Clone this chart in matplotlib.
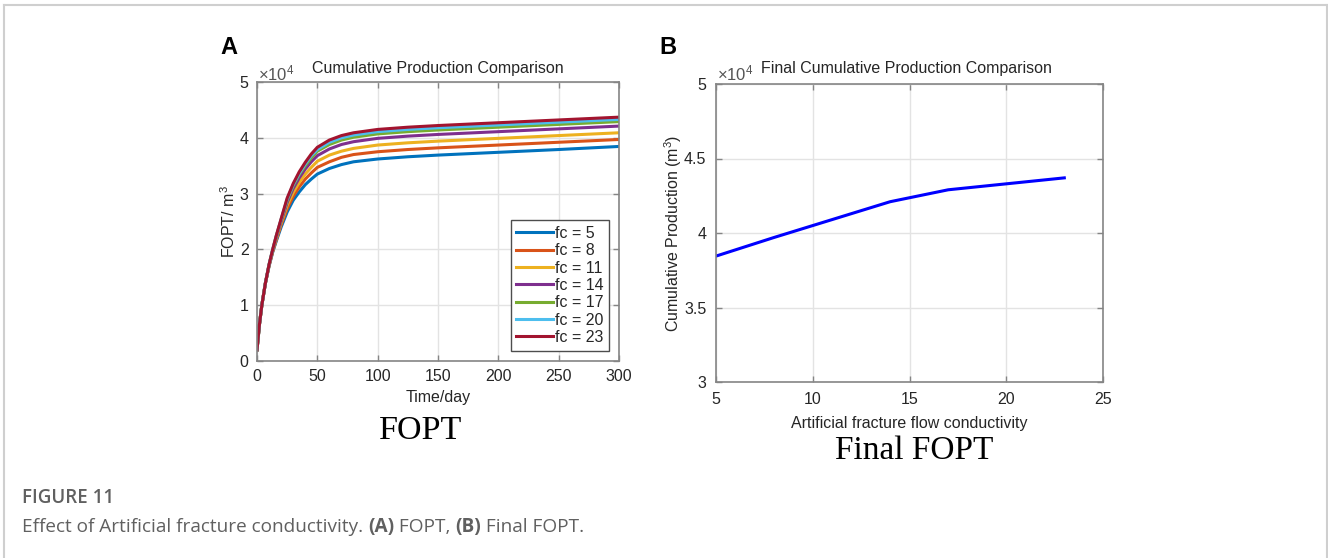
import matplotlib
matplotlib.use("Agg")
import matplotlib.pyplot as plt
from matplotlib.lines import Line2D
from matplotlib.ticker import FuncFormatter

plt.rcParams['font.family'] = ['Liberation Sans', 'DejaVu Sans']
plt.rcParams['mathtext.fontset'] = 'custom'
plt.rcParams['mathtext.rm'] = 'Liberation Sans'
plt.rcParams['mathtext.it'] = 'Liberation Sans:italic'

# ---------------- data ----------------
time_days = [0, 2, 4, 7, 10, 13, 16, 20, 25, 30, 35, 40, 45, 50, 60, 70, 80,
             100, 125, 150, 200, 250, 300]
fc_labels = ['fc = 5', 'fc = 8', 'fc = 11', 'fc = 14', 'fc = 17', 'fc = 20', 'fc = 23']
# FOPT in units of 1e4 m^3
fopt_fc5 = [0.20, 0.65, 1.00, 1.40, 1.70, 1.95, 2.15, 2.40, 2.67, 2.88, 3.03, 3.16, 3.26,
            3.35, 3.45, 3.52, 3.57, 3.62, 3.66, 3.69, 3.74, 3.79, 3.845]
fopt_fc8 = [0.20, 0.65, 1.00, 1.40, 1.71, 1.96, 2.17, 2.44, 2.73, 2.95, 3.12, 3.26, 3.37,
            3.47, 3.57, 3.65, 3.70, 3.75, 3.79, 3.82, 3.87, 3.92, 3.97]
fopt_fc11 = [0.20, 0.65, 1.00, 1.40, 1.71, 1.97, 2.20, 2.47, 2.79, 3.02, 3.20, 3.35, 3.47,
             3.58, 3.69, 3.76, 3.81, 3.87, 3.91, 3.94, 3.99, 4.04, 4.09]
fopt_fc14 = [0.20, 0.65, 1.00, 1.40, 1.72, 1.98, 2.22, 2.50, 2.84, 3.09, 3.28, 3.44, 3.57,
             3.68, 3.80, 3.88, 3.93, 3.99, 4.03, 4.06, 4.11, 4.16, 4.21]
fopt_fc17 = [0.20, 0.65, 1.00, 1.40, 1.73, 1.99, 2.24, 2.53, 2.88, 3.14, 3.34, 3.50, 3.64,
             3.76, 3.88, 3.96, 4.01, 4.07, 4.11, 4.14, 4.19, 4.24, 4.29]
fopt_fc20 = [0.20, 0.65, 1.00, 1.40, 1.73, 2.00, 2.24, 2.54, 2.90, 3.16, 3.36, 3.53, 3.68,
             3.79, 3.92, 4.00, 4.05, 4.11, 4.15, 4.18, 4.23, 4.28, 4.33]
fopt_fc23 = [0.20, 0.65, 1.00, 1.40, 1.73, 2.00, 2.25, 2.55, 2.92, 3.18, 3.39, 3.56, 3.71,
             3.83, 3.96, 4.04, 4.09, 4.15, 4.19, 4.22, 4.27, 4.32, 4.37]

conductivity = [5, 8, 11, 14, 17, 20, 23]
final_fopt = [3.845, 3.97, 4.09, 4.21, 4.29, 4.33, 4.37]

series = [fopt_fc5, fopt_fc8, fopt_fc11, fopt_fc14, fopt_fc17, fopt_fc20, fopt_fc23]
colors = ['#0072BD', '#D95319', '#EDB120', '#7E2F8E', '#77AC30', '#4DBEEE', '#A2142F']

W, H = 1328, 558
fig = plt.figure(figsize=(W / 100, H / 100), dpi=100)
fig.patch.set_facecolor('white')

AX_COL = '#858585'
TXT = '#262626'
GRID = '#e3e3e3'


def style_axes(ax, pad=6):
    for s in ax.spines.values():
        s.set_color(AX_COL)
        s.set_linewidth(1.2)
    ax.tick_params(direction='in', length=4, width=1, colors=AX_COL,
                   labelcolor=TXT, labelsize=11.5, top=True, right=True, pad=pad)
    ax.grid(True, color=GRID, linewidth=1)
    ax.set_axisbelow(True)


def px(x, y):
    return x / W, 1 - y / H

# ---------------- panel A ----------------
axA = fig.add_axes([257 / W, 1 - 361 / H, 362 / W, 279 / H])
style_axes(axA)
for vals, col, lab in zip(series, colors, fc_labels):
    axA.plot(time_days, vals, color=col, lw=2.2, label=lab)
axA.set_xlim(0, 300)
axA.set_ylim(0, 5)
axA.set_xticks([0, 50, 100, 150, 200, 250, 300])
axA.set_yticks([0, 1, 2, 3, 4, 5])
axA.set_xlabel('Time/day', fontsize=11.5, color=TXT, labelpad=4)
axA.set_ylabel(r'FOPT/ m$^{3}$', fontsize=11.5, color=TXT, labelpad=1.5)
leg = axA.legend(loc='lower right', bbox_to_anchor=(0.972, 0.037), fontsize=11.5,
                 frameon=True, fancybox=False, framealpha=1, edgecolor='#4d4d4d',
                 handlelength=2.3, handletextpad=0.1, labelspacing=0.15,
                 borderpad=0.35, borderaxespad=0)
leg.get_frame().set_linewidth(1)
for t in leg.get_texts():
    t.set_color(TXT)

fig.text(*px(438, 68), 'Cumulative Production Comparison', ha='center', va='center',
         fontsize=11.5, color=TXT)
fig.text(*px(258, 73), r'$\times\mathregular{10^{4}}$', ha='left', va='center',
         fontsize=12, color='#555555')
fig.text(*px(229, 47), 'A', ha='center', va='center', fontsize=17, fontweight='bold',
         color='black')
fig.text(*px(421, 431), 'FOPT', ha='center', va='center', fontsize=24.5,
         family='Liberation Serif', color='black')

# ---------------- panel B ----------------
axB = fig.add_axes([716 / W, 1 - 382 / H, 387 / W, 298 / H])
style_axes(axB, pad=7)
axB.plot(conductivity, final_fopt, color='#0000FF', lw=2.2)
axB.set_xlim(5, 25)
axB.set_ylim(3, 5)
axB.set_xticks([5, 10, 15, 20, 25])
axB.set_yticks([3, 3.5, 4, 4.5, 5])
axB.yaxis.set_major_formatter(FuncFormatter(lambda v, p: f'{v:g}'))
axB.set_xlabel('Artificial fracture flow conductivity', fontsize=11.5, color=TXT, labelpad=7)
axB.set_ylabel(r'Cumulative Production (m$^{3}$)', fontsize=11.5, color=TXT, labelpad=0)

fig.text(*px(906, 69), 'Final Cumulative Production Comparison', ha='center', va='center',
         fontsize=11.5, color=TXT)
fig.text(*px(717, 73), r'$\times\mathregular{10^{4}}$', ha='left', va='center',
         fontsize=12, color='#555555')
fig.text(*px(668, 47), 'B', ha='center', va='center', fontsize=17, fontweight='bold',
         color='black')
fig.text(*px(914, 451), 'Final FOPT', ha='center', va='center', fontsize=24,
         family='Liberation Serif', color='black')

# ---------------- frame & caption ----------------
frame_col = '#cfcfcf'
fig.add_artist(Line2D([4 / W, 4 / W], [0, 1 - 5 / H], color=frame_col, lw=1.5))
fig.add_artist(Line2D([4 / W, 1326.5 / W], [1 - 5 / H, 1 - 5 / H], color=frame_col, lw=1.5))
fig.add_artist(Line2D([1326.5 / W, 1326.5 / W], [0, 1 - 5 / H], color=frame_col, lw=1.5))

CAP = '#606060'
cap_font = ['Open Sans', 'DejaVu Sans']
fig.text(*px(22, 498), 'FIGURE 11', ha='left', va='center', fontsize=13.5,
         family=cap_font, color=CAP, fontweight='semibold')

pieces = [('Effect of Artificial fracture conductivity. ', 'normal'),
          ('(A)', 'bold'), (' FOPT, ', 'normal'), ('(B)', 'bold'), (' Final FOPT.', 'normal')]
renderer = fig.canvas.get_renderer()
x0 = 22
for txt, wt in pieces:
    t = fig.text(*px(x0, 527), txt, ha='left', va='center', fontsize=13.7,
                 family=cap_font, color=CAP, fontweight=wt)
    bb = t.get_window_extent(renderer=renderer)
    x0 += bb.width

fig.savefig('out.png', dpi=100, facecolor='white')
